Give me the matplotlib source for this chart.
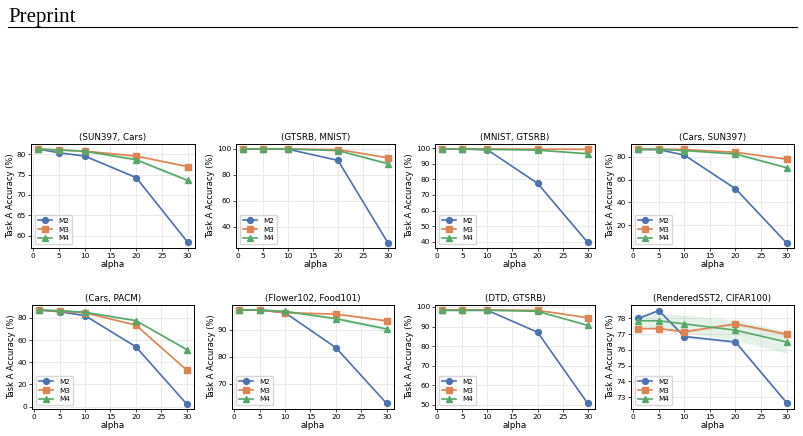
import matplotlib.pyplot as plt
from matplotlib.ticker import MaxNLocator
import numpy as np

alpha = [1, 5, 10, 20, 30]

titles = ["(SUN397, Cars)", "(GTSRB, MNIST)", "(MNIST, GTSRB)", "(Cars, SUN397)",
          "(Cars, PACM)", "(Flower102, Food101)", "(DTD, GTSRB)", "(RenderedSST2, CIFAR100)"]

m2 = [
    [81.3, 80.4, 79.6, 74.3, 58.4],
    [99.7, 99.7, 99.5, 91.0, 28.0],
    [99.6, 99.5, 99.0, 77.5, 39.5],
    [86.5, 86.3, 81.5, 52.0, 4.5],
    [87.0, 85.5, 82.0, 54.0, 2.5],
    [97.2, 97.2, 96.2, 83.3, 62.7],
    [98.3, 98.3, 98.3, 87.1, 50.6],
    [78.0, 78.5, 76.85, 76.5, 72.65],
]
m3 = [
    [81.3, 81.1, 80.8, 79.6, 77.0],
    [99.7, 99.7, 99.7, 99.3, 93.0],
    [99.6, 99.6, 99.6, 99.4, 99.3],
    [86.8, 86.8, 86.5, 84.0, 78.0],
    [87.0, 86.0, 84.5, 73.5, 33.0],
    [97.2, 97.2, 96.2, 95.7, 93.2],
    [98.5, 98.5, 98.5, 98.3, 94.5],
    [77.35, 77.35, 77.15, 77.65, 77.0],
]
m4 = [
    [81.3, 81.1, 80.8, 78.7, 73.6],
    [99.7, 99.7, 99.7, 98.5, 88.5],
    [99.6, 99.5, 99.3, 98.8, 96.5],
    [86.5, 86.5, 85.5, 82.5, 70.5],
    [87.0, 86.5, 85.0, 77.5, 51.5],
    [97.2, 97.2, 96.7, 94.0, 90.2],
    [98.3, 98.3, 98.3, 97.8, 90.6],
    [77.85, 77.85, 77.65, 77.25, 76.5],
]
# std bands
s2 = [
    [0.1, 0.1, 0.2, 0.3, 0.3],
    [0.1, 0.1, 0.1, 0.5, 0.5],
    [0.1, 0.1, 0.1, 0.5, 0.5],
    [0.3, 0.3, 0.5, 0.8, 0.3],
    [0.3, 0.3, 0.5, 0.8, 0.3],
    [0.1, 0.1, 0.2, 0.3, 0.3],
    [0.1, 0.1, 0.1, 0.4, 0.4],
    [0.05, 0.05, 0.1, 0.1, 0.1],
]
s3 = [
    [0.1, 0.1, 0.2, 0.3, 0.3],
    [0.1, 0.1, 0.1, 0.2, 0.5],
    [0.1, 0.1, 0.1, 0.1, 0.2],
    [0.3, 0.3, 0.4, 0.6, 0.8],
    [0.3, 0.3, 0.5, 0.8, 0.8],
    [0.1, 0.1, 0.3, 0.4, 0.5],
    [0.1, 0.1, 0.1, 0.2, 0.4],
    [0.05, 0.05, 0.1, 0.1, 0.1],
]
s4 = [
    [0.1, 0.1, 0.2, 0.4, 0.4],
    [0.1, 0.1, 0.2, 0.6, 1.2],
    [0.1, 0.1, 0.2, 0.3, 0.5],
    [0.3, 0.3, 0.5, 0.8, 1.0],
    [0.3, 0.3, 0.5, 0.8, 1.0],
    [0.1, 0.1, 0.3, 0.7, 0.8],
    [0.1, 0.1, 0.1, 0.3, 0.6],
    [0.45, 0.5, 0.55, 0.65, 0.7],
]

colors = ["#4C72B0", "#DD8452", "#55A868"]
markers = ["o", "s", "^"]
names = ["M2", "M3", "M4"]

# axes boxes in pixels: left, right, top, bottom
lefts = [31, 236, 435, 631, 32, 232, 435, 631]
rights = [195, 395, 595, 794, 194, 394, 595, 794]
tops = [144, 144, 144, 144, 305, 305, 305, 305]
bottoms = [248, 248, 248, 248, 409, 409, 409, 409]

W, H = 804, 436
fig = plt.figure(figsize=(W / 100, H / 100), dpi=100)

fig.text(8 / W, 1 - 22 / H, "Preprint", family="Liberation Serif", fontsize=15, ha="left", va="baseline")
fig.add_artist(plt.Line2D([8 / W, 797 / W], [1 - 27.5 / H] * 2, color="black", lw=0.8))

for i in range(8):
    ax = fig.add_axes([lefts[i] / W, 1 - bottoms[i] / H,
                       (rights[i] - lefts[i]) / W, (bottoms[i] - tops[i]) / H])
    for ys, ss, c, mk, nm in zip([m2[i], m3[i], m4[i]], [s2[i], s3[i], s4[i]], colors, markers, names):
        ys = np.array(ys)
        ss = np.array(ss)
        ax.plot(alpha, ys, color=c, marker=mk, markersize=4.2, lw=1.2, label=nm)
        ax.fill_between(alpha, ys - ss, ys + ss, color=c, alpha=0.15, lw=0)
    ax.set_title(titles[i], fontsize=6.3, pad=3)
    ax.set_xlabel("alpha", fontsize=6.3, labelpad=1)
    ax.set_ylabel("Task A Accuracy (%)", fontsize=6, labelpad=1.5)
    ax.tick_params(labelsize=5.3, length=2, width=0.5, pad=1.5)
    ax.set_xticks([0, 5, 10, 15, 20, 25, 30])
    ax.yaxis.set_major_locator(MaxNLocator(nbins=7, steps=[1, 2, 2.5, 5, 10]))
    ax.grid(True, color="#e6e6e6", lw=0.6)
    ax.set_axisbelow(True)
    for sp in ax.spines.values():
        sp.set_linewidth(0.7)
    ax.legend(loc="lower left", fontsize=5.2, handlelength=2.0, borderpad=0.45,
              labelspacing=0.35, framealpha=0.8, edgecolor="#cccccc")

fig.savefig("out.png", dpi=100)
